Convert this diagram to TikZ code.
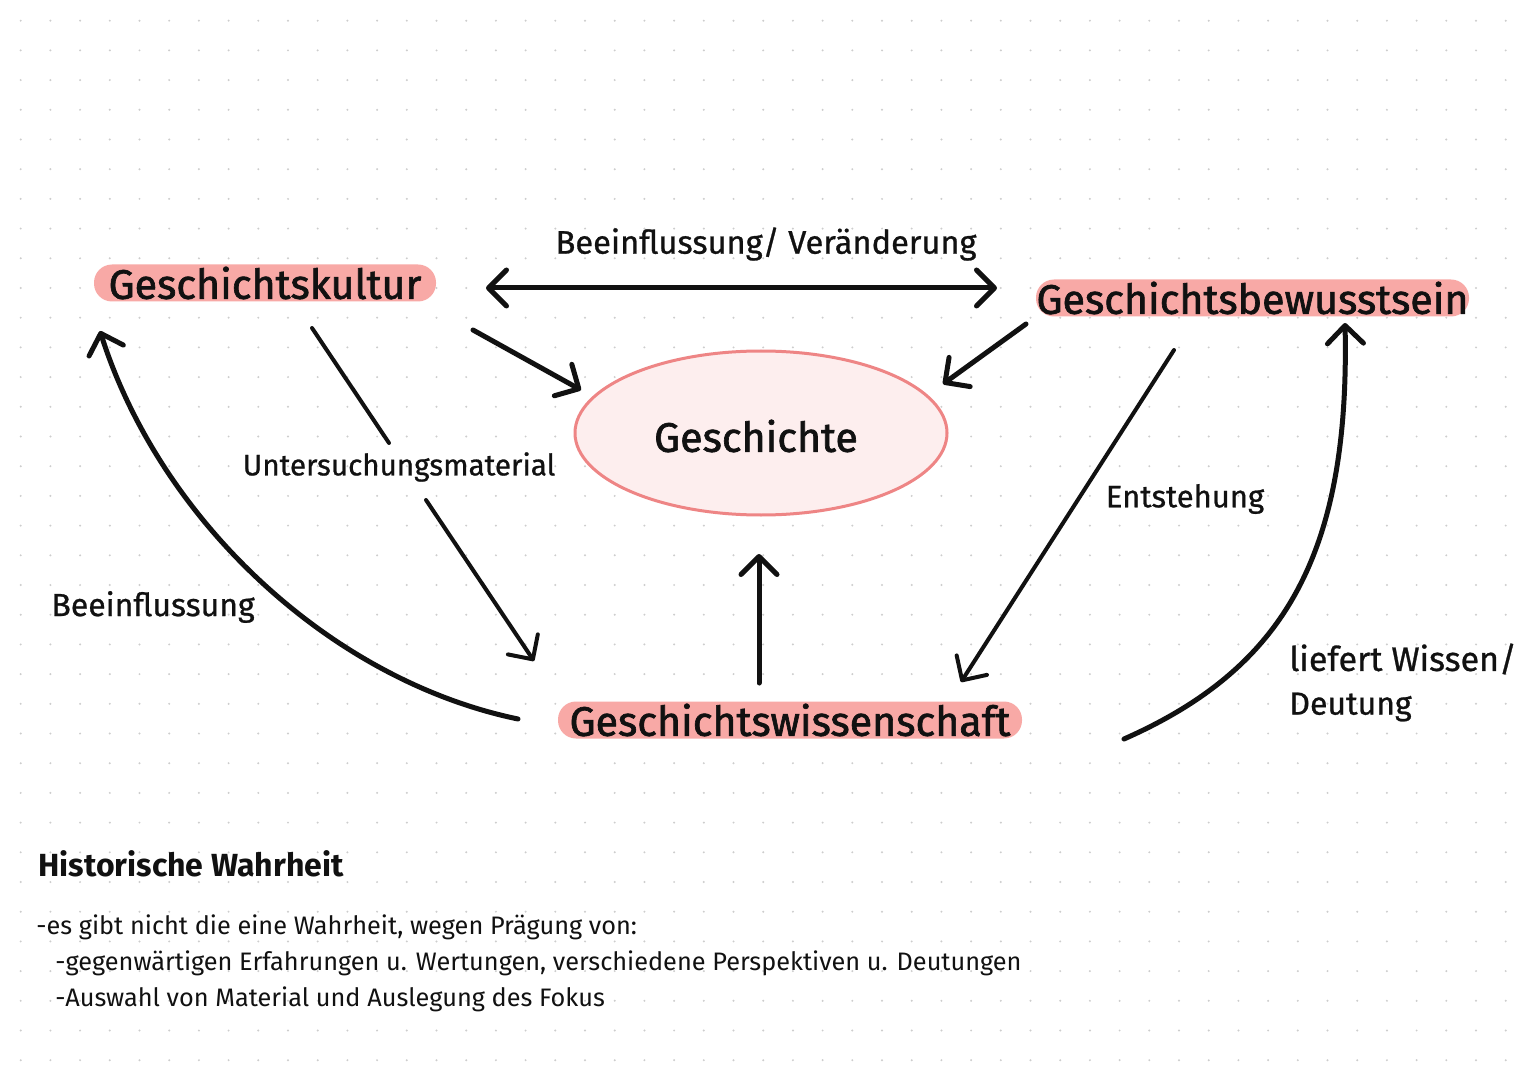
\documentclass[tikz,border=0pt]{standalone}
\usepackage{fontspec}
\setmainfont{Fira Sans}
\newfontfamily\heavyfont[FakeBold=1.6]{Fira Sans}
\newfontfamily\midfont[FakeBold=0.8]{Fira Sans}
\usetikzlibrary{arrows.meta,shapes.geometric}
\definecolor{hl}{HTML}{F8A9A6}
\definecolor{ellline}{HTML}{EE8585}
\definecolor{ellfill}{HTML}{FDEEEE}
\definecolor{dotc}{HTML}{CDCDCD}
\definecolor{ink}{HTML}{111111}
\tikzset{
  hlbox/.style={fill=hl, rounded corners=9pt, inner sep=0pt, minimum height=18.5pt,
    font=\heavyfont\fontsize{20.6pt}{24pt}\selectfont, text=ink},
  lbl/.style={inner sep=0pt, font=\midfont\fontsize{15.5pt}{18pt}\selectfont, text=ink},
  body/.style={inner sep=0pt, anchor=west, font=\fontsize{12.65pt}{14pt}\selectfont, text=ink},
  thick arrow/.style={draw=ink, line width=2.5pt, line cap=round,
    -{Straight Barb[length=9pt,width=18pt,round]}},
  thin arrow/.style={draw=ink, line width=2pt, line cap=round,
    -{Straight Barb[length=9pt,width=18pt,round]}},
  plain line/.style={draw=ink, line width=2pt, line cap=round},
}
\begin{document}
\begin{tikzpicture}[x=0.5pt,y=-0.5pt]
\useasboundingbox (0,0) rectangle (1525,1080);
\fill[white] (0,0) rectangle (1525,1080);
\foreach \i in {0,...,50}{
  \foreach \j in {0,...,35}{
    \fill[dotc] (20.7+29.7*\i, 20.7+29.7*\j) circle[radius=0.55pt];
  }
}
% main nodes
\node[hlbox, minimum width=171pt] (kultur) at (265,283) {Geschichtskultur};
\node[hlbox, minimum width=216.5pt] (bewusst) at (1252.5,298) {Geschichtsbewusstsein};
\node[hlbox, minimum width=232pt] (wissen) at (790,720) {Geschichtswissenschaft};
\node[ellipse, draw=ellline, fill=ellfill, line width=1.5pt, minimum width=186pt,
  minimum height=82pt, inner sep=0pt]
  (geschichte) at (761,433) {};
\node[inner sep=0pt, font=\heavyfont\fontsize{20.6pt}{24pt}\selectfont, text=ink] (gtext) at (756,436) {Geschichte};

% labels
\node[lbl, font=\midfont\fontsize{16.3pt}{18pt}\selectfont] (l1) at (766,244) {Beeinflussung/ Veränderung};
\node[lbl, font=\midfont\fontsize{14.8pt}{18pt}\selectfont] (l2) at (399,467) {Untersuchungsmaterial};
\node[lbl] (l3) at (1185,499) {Entstehung};
\node[lbl, font=\midfont\fontsize{16pt}{18pt}\selectfont] (l4) at (153,607) {Beeinflussung};
\node[lbl, anchor=west, font=\midfont\fontsize{17pt}{18pt}\selectfont] (l5) at (1289,659) {liefert Wissen/};
\node[lbl, anchor=west, font=\midfont\fontsize{16pt}{18pt}\selectfont] (l6) at (1289,707) {Deutung};

% connector endpoints
\coordinate (a1) at (486,288);
\coordinate (a2) at (997,288);
\coordinate (b1) at (473,330);
\coordinate (b2) at (581,390);
\coordinate (c1) at (1026,324);
\coordinate (c2) at (943,384);
\coordinate (d1) at (312,328);
\coordinate (d2) at (389,443);
\coordinate (e1) at (426,500);
\coordinate (e2) at (534,661);
\coordinate (f1) at (759,683);
\coordinate (f2) at (759,554);
\coordinate (g1) at (1174,350);
\coordinate (g2) at (961,682);
\coordinate (h1) at (518,719);
\coordinate (h2) at (100,331);
\coordinate (k1) at (1124,739);
\coordinate (k2) at (1345,323);

\draw[thick arrow, {Straight Barb[length=9pt,width=18pt,round]}-{Straight Barb[length=9pt,width=18pt,round]}] (a1) -- (a2);
\draw[thick arrow] (b1) -- (b2);
\draw[thick arrow] (c1) -- (c2);
\draw[plain line] (d1) -- (d2);
\draw[thin arrow] (e1) -- (e2);
\draw[thick arrow] (f1) -- (f2);
\draw[thin arrow] (g1) -- (g2);
\draw[thick arrow] (h1) .. controls (330,680) and (160,520) .. (h2);
\draw[thick arrow] (k1) .. controls (1280,670) and (1350,560) .. (k2);

% bottom text
\node[inner sep=0pt, anchor=west, font=\bfseries\fontsize{16pt}{18pt}\selectfont, text=ink] (hw) at (38,864) {Historische Wahrheit};
\node[body] (t1) at (36,927) {-es gibt nicht die eine Wahrheit, wegen Prägung von:};
\node[body] (t2) at (55,963) {-gegenwärtigen Erfahrungen u. Wertungen, verschiedene Perspektiven u. Deutungen};
\node[body] (t3) at (55,999) {-Auswahl von Material und Auslegung des Fokus};
\end{tikzpicture}
\end{document}
